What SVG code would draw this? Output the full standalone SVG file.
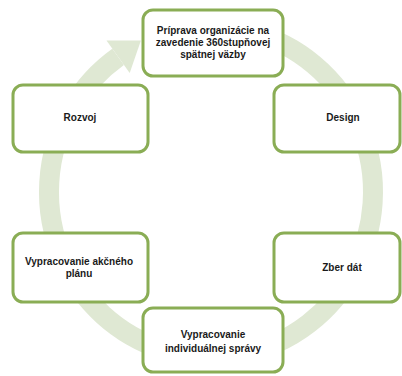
<svg xmlns="http://www.w3.org/2000/svg" width="402" height="376" viewBox="0 0 402 376">
<style>
.box{fill:#ffffff;stroke:#8aad55;stroke-width:3}
.t{font-family:"Liberation Sans",Arial,sans-serif;font-weight:bold;font-size:10px;fill:#1a1a1a;text-anchor:middle}
.ring{fill:none;stroke:#dfe8d3;stroke-width:20}
</style>
<rect width="402" height="376" fill="#ffffff"/>
<g id="connectors">
<path class="ring" d="M 252.9 32.6 A 162 165 0 1 1 118.1 56.8"/>
<polygon points="140.9,40.6 129.7,73.1 106.5,40.5" fill="#dfe8d3"/>
</g>
<g id="n1">
<rect class="box" x="143" y="10" width="140" height="66" rx="10"/>
<text class="t" x="213" y="34">Príprava organizácie na</text>
<text class="t" x="213" y="46">zavedenie 360stupňovej</text>
<text class="t" x="213" y="58">spätnej väzby</text>
</g>
<g id="n2">
<rect class="box" x="274" y="85" width="126" height="67" rx="10"/>
<text class="t" x="343" y="121">Design</text>
</g>
<g id="n3">
<rect class="box" x="274" y="233" width="126" height="69" rx="10"/>
<text class="t" x="342" y="271">Zber dát</text>
</g>
<g id="n4">
<rect class="box" x="143" y="308" width="140" height="64" rx="10"/>
<text class="t" x="213" y="338">Vypracovanie</text>
<text class="t" x="213" y="352">individuálnej správy</text>
</g>
<g id="n5">
<rect class="box" x="13" y="233" width="135" height="69" rx="10"/>
<text class="t" x="79" y="265">Vypracovanie akčného</text>
<text class="t" x="79" y="277">plánu</text>
</g>
<g id="n6">
<rect class="box" x="13" y="85" width="135" height="67" rx="10"/>
<text class="t" x="80" y="121">Rozvoj</text>
</g>
</svg>
